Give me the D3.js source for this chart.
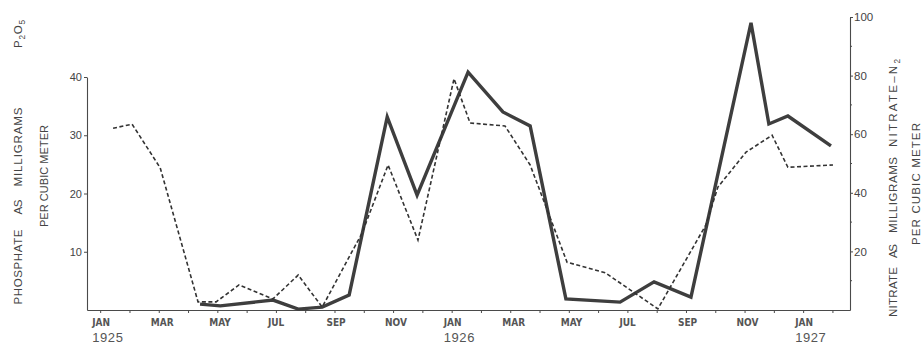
<!DOCTYPE html>
<html><head><meta charset="utf-8">
<script src="https://cdn.jsdelivr.net/npm/d3@7"></script>
<style>body{margin:0;background:#fff}svg{display:block}</style>
</head><body>
<script>
// Months since January 1925 (0 = Jan 1925)
const phosphateMonths = [0.44, 1.09, 2.05, 3.34, 3.96, 4.74, 5.90, 6.76, 7.58, 8.94, 9.83, 10.85, 12.08, 12.63, 13.82, 14.68, 15.94, 17.24, 19.04, 20.68, 21.09, 22.05, 22.94, 23.48, 25.02];
const phosphateValues = [31.2, 31.9, 24.4, 1.4, 1.4, 4.3, 1.9, 6.0, 0.5, 13.2, 24.9, 12.0, 39.7, 32.1, 31.6, 24.9, 8.2, 6.4, 0.2, 14.6, 21.1, 27.1, 30.0, 24.5, 24.9];
const nitrateMonths = [3.41, 4.10, 5.90, 6.76, 7.58, 8.50, 9.80, 10.82, 12.56, 13.75, 14.68, 15.90, 17.75, 18.91, 20.17, 22.22, 22.83, 23.48, 24.95];
const nitrateValues = [2.0, 1.4, 3.4, 0.3, 1.0, 5.1, 65.9, 39.2, 81.2, 67.6, 62.8, 3.8, 2.7, 9.6, 4.4, 98.0, 63.5, 66.2, 56.0];
const monthTickValues = [0, 2, 4, 6, 8, 10, 12, 14, 16, 18, 20, 22, 24];
const monthTickLabels = ["JAN","MAR","MAY","JUL","SEP","NOV","JAN","MAR","MAY","JUL","SEP","NOV","JAN"];
const yearTickValues = [0, 12, 24];
const yearLabels = ["1925", "1926", "1927"];
const phosphateTicks = [10, 20, 30, 40];
const nitrateTicks = [20, 40, 60, 80, 100];
const nitrateMinorTicks = [10, 30, 50, 70, 90];

const W = 922, H = 344;
const svg = d3.select("body").append("svg").attr("width", W).attr("height", H);
svg.append("rect").attr("width", W).attr("height", H).attr("fill", "#fff");

const x = d3.scaleLinear().domain([-0.45, 25.6]).range([87, 850]);
const yL = d3.scaleLinear().domain([0, 40]).range([310, 77]);
const yR = d3.scaleLinear().domain([0, 100]).range([310, 17]);

const axisColor = "#4a4a4a";
function styleAxis(g) {
  g.selectAll("path.domain").attr("stroke", axisColor).attr("stroke-width", 1.1);
  g.selectAll(".tick line").attr("stroke", axisColor).attr("stroke-width", 1);
  g.selectAll("text").attr("fill", "#444").attr("font-family", "Liberation Sans, Arial, sans-serif");
}

// bottom axis: monthly ticks
const gx = svg.append("g").attr("transform", "translate(0,310)")
  .call(d3.axisBottom(x).tickValues(d3.range(0, 26)).tickSize(3).tickSizeOuter(0).tickFormat(""));
styleAxis(gx);

// month labels
svg.append("g").selectAll("text").data(monthTickValues).join("text")
  .attr("x", d => x(d) - 8)
  .attr("y", 326)
  .attr("font-family", "DejaVu Sans Condensed, DejaVu Sans, sans-serif")
  .attr("font-weight", "bold")
  .attr("font-size", 10)
  .attr("fill", "#555")
  .text((d, i) => monthTickLabels[i]);

// year labels
svg.append("g").selectAll("text").data(yearTickValues).join("text")
  .attr("x", d => x(d) - 8)
  .attr("y", 342)
  .attr("font-family", "Liberation Sans, Arial, sans-serif")
  .attr("font-size", 13)
  .attr("letter-spacing", 0.6)
  .attr("fill", "#555")
  .text((d, i) => yearLabels[i]);

// left axis
const gl = svg.append("g").attr("transform", "translate(87,0)")
  .call(d3.axisLeft(yL).tickValues(phosphateTicks).tickSize(3).tickSizeOuter(0).tickPadding(2));
styleAxis(gl);
gl.selectAll("text").attr("font-size", 11);

// right axis
const gr = svg.append("g").attr("transform", "translate(850,0)")
  .call(d3.axisRight(yR).tickValues(nitrateTicks).tickSize(3).tickSizeOuter(0).tickPadding(1));
styleAxis(gr);
gr.selectAll("text").attr("font-size", 11.5);
gr.append("g").selectAll("line").data(nitrateMinorTicks).join("line")
  .attr("x1", 0).attr("x2", 2).attr("y1", d => yR(d)).attr("y2", d => yR(d))
  .attr("stroke", axisColor).attr("stroke-width", 1);

// lines
const phosphate = phosphateMonths.map((m, i) => [m, phosphateValues[i]]);
const nitrate = nitrateMonths.map((m, i) => [m, nitrateValues[i]]);

svg.append("path").datum(nitrate)
  .attr("d", d3.line().x(d => x(d[0])).y(d => yR(d[1])))
  .attr("fill", "none").attr("stroke", "#3e3e3e").attr("stroke-width", 3.4)
  .attr("stroke-linejoin", "miter");

svg.append("path").datum(phosphate)
  .attr("d", d3.line().x(d => x(d[0])).y(d => yL(d[1])))
  .attr("fill", "none").attr("stroke", "#333").attr("stroke-width", 1.6)
  .attr("stroke-dasharray", "4,2.5");

// axis titles, one rotated word at a time
function word(xc, yc, len, parts, size) {
  const t = svg.append("text")
    .attr("transform", `translate(${xc},${yc}) rotate(-90)`)
    .attr("text-anchor", "middle")
    .attr("font-family", "Liberation Sans, Arial, sans-serif")
    .attr("font-size", size)
    .attr("fill", "#444");
  if (len) t.attr("textLength", len).attr("lengthAdjust", "spacing");
  parts.forEach(p => {
    const s = t.append("tspan").text(p.t);
    if (p.sub) s.attr("font-size", size * 0.72).attr("dy", 3);
    if (p.up) s.attr("dy", -3);
  });
}
word(22, 267, 75, [{t: "PHOSPHATE"}], 11.5);
word(22, 207, 15, [{t: "AS"}], 11.5);
word(22, 147, 79, [{t: "MILLIGRAMS"}], 11.5);
word(22, 34, 28, [{t: "P"}, {t: "2", sub: 1}, {t: "O", up: 1}, {t: "5", sub: 1}], 11.5);
word(48, 176, 102, [{t: "PER CUBIC METER"}], 11);

word(897, 292, 50, [{t: "NITRATE"}], 11.5);
word(897, 251, 14, [{t: "AS"}], 11.5);
word(897, 195, 76, [{t: "MILLIGRAMS"}], 11.5);
word(897, 103, 88, [{t: "NITRATE\u2013N"}, {t: "2", sub: 1}], 11.5);
word(920, 184, 122, [{t: "PER CUBIC METER"}], 11.5);
</script>
</body></html>
